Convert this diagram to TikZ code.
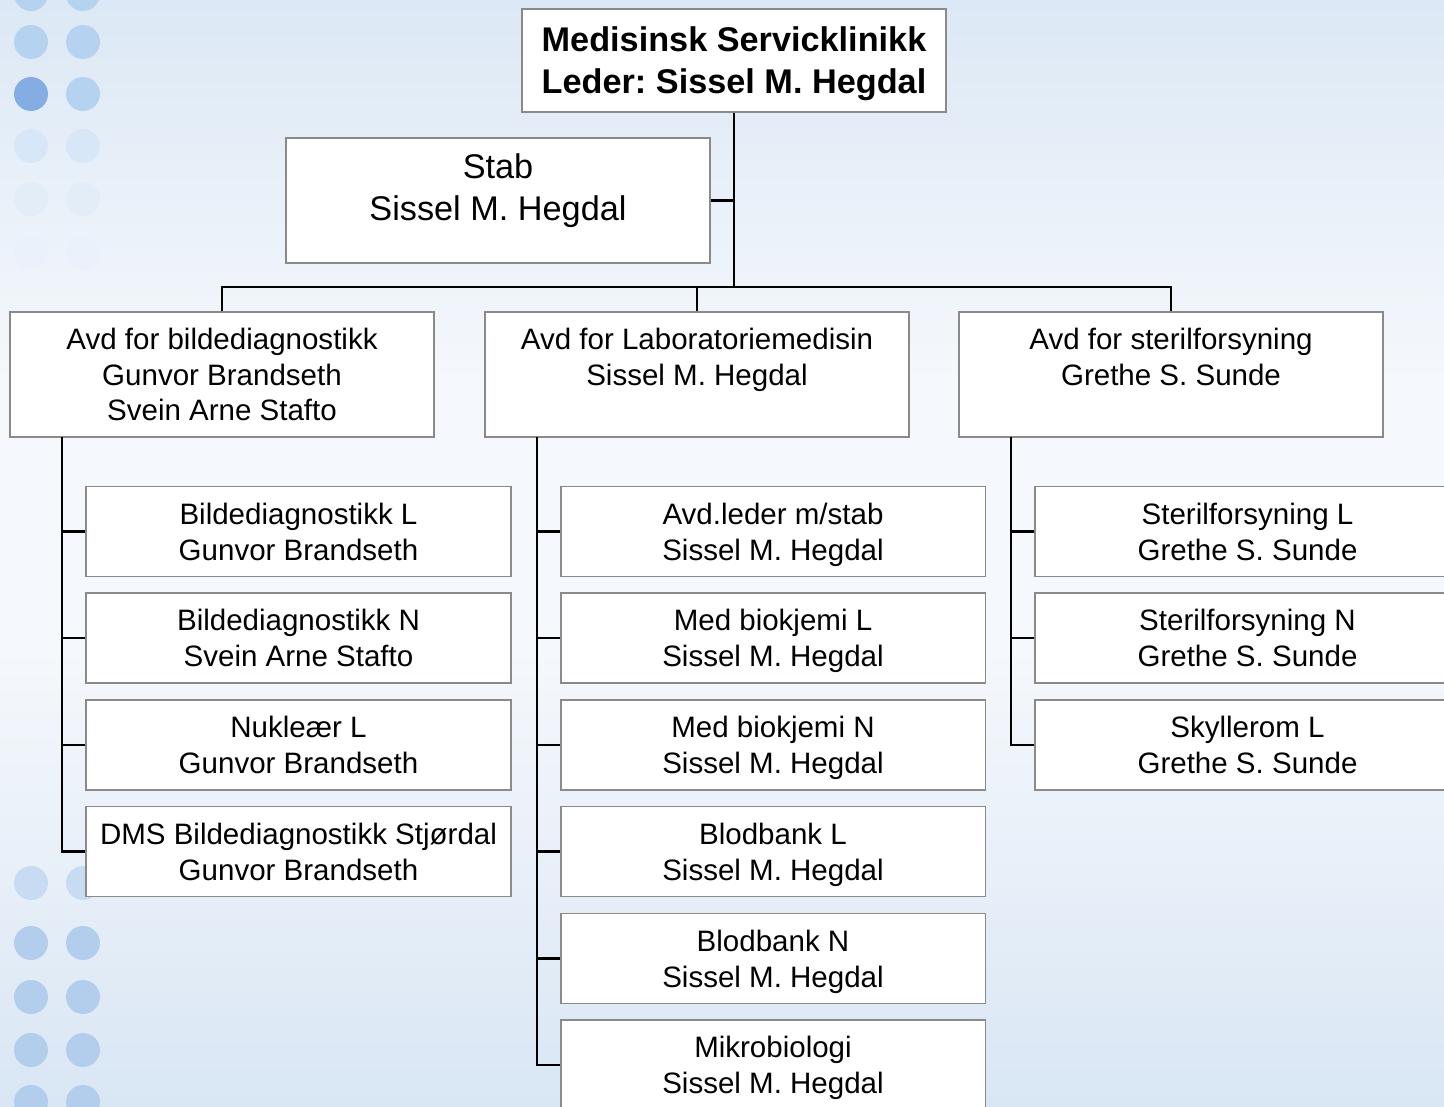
\documentclass[tikz,border=0pt]{standalone}
\usepackage{fontspec}
\setmainfont{Liberation Sans}
\frenchspacing

\definecolor{boxline}{HTML}{8A8A8A}
\definecolor{skytop}{HTML}{DCE8F5}
\definecolor{skymid}{HTML}{F5F8FC}
\definecolor{skybot}{HTML}{D9E6F4}
\definecolor{dotdark}{HTML}{84AEE3}
\definecolor{dotlight}{HTML}{B5D2F0}

\tikzset{
  card/.style={draw=boxline, fill=white, line width=1.1pt, align=center,
    minimum width=8.48cm, inner sep=2pt, text depth=0pt},
  headbox/.style={card, minimum height=2.06cm,
    font=\fontsize{19.5}{23.9}\selectfont\bfseries},
  stabbox/.style={card, minimum height=2.5cm,
    font=\fontsize{19.5}{23.9}\selectfont},
  deptbox/.style={card, minimum height=2.5cm,
    font=\fontsize{16.8}{20.3}\selectfont},
  unitbox/.style={card, minimum width=8.5cm, minimum height=1.8cm,
    font=\fontsize{16.8}{20.5}\selectfont},
  link/.style={line width=1.2pt, black}
}

\begin{document}
\begin{tikzpicture}[x=0.02cm, y=-0.02cm]
  \useasboundingbox (0,0) rectangle (1444,1106);

  % background
  \fill[skymid] (0,0) rectangle (1444,1106);
  \shade[top color=skytop, bottom color=skymid] (0,0) rectangle (1444,380);
  \shade[top color=skymid, bottom color=skybot] (0,650) rectangle (1444,1106);
  \fill[dotlight] (31,-6) circle[radius=0.34cm] (83,-6) circle[radius=0.34cm];
  \fill[dotlight] (31,42) circle[radius=0.34cm] (83,42) circle[radius=0.34cm];
  \fill[dotdark] (31,94) circle[radius=0.34cm];
  \fill[dotlight] (83,94) circle[radius=0.34cm];
  \fill[dotlight!45!skymid] (31,146) circle[radius=0.34cm] (83,146) circle[radius=0.34cm];
  \fill[dotlight!30!skymid] (31,199) circle[radius=0.34cm] (83,199) circle[radius=0.34cm];
  \fill[dotlight!18!skymid] (31,253) circle[radius=0.34cm] (83,253) circle[radius=0.34cm];
  \fill[dotlight!50!skybot] (31,883) circle[radius=0.34cm] (83,883) circle[radius=0.34cm];
  \fill[dotdark!45!skybot] (31,943) circle[radius=0.34cm] (83,943) circle[radius=0.34cm];
  \fill[dotdark!45!skybot] (31,997) circle[radius=0.34cm] (83,997) circle[radius=0.34cm];
  \fill[dotdark!45!skybot] (31,1050) circle[radius=0.34cm] (83,1050) circle[radius=0.34cm];
  \fill[dotdark!45!skybot] (31,1102) circle[radius=0.34cm] (83,1102) circle[radius=0.34cm];

  % top and staff
  \node[headbox] (top) at (734,60.5) {Medisinsk Servicklinikk\\Leder: Sissel M. Hegdal};
  \node[stabbox] (stab) at (498,200.5) {Stab\\Sissel M. Hegdal\\[-0.3cm]\mbox{}};

  % departments
  \node[deptbox] (bild) at (222,374.5) {Avd for bildediagnostikk\\Gunvor Brandseth\\Svein Arne Stafto};
  \node[deptbox] (lab) at (697,374.5) {Avd for Laboratoriemedisin\\Sissel M. Hegdal\\\mbox{}};
  \node[deptbox] (ster) at (1171,374.5) {Avd for sterilforsyning\\Grethe S. Sunde\\\mbox{}};

  % units, bildediagnostikk
  \node[unitbox] (bild1) at (298.5,531.5) {Bildediagnostikk L\\Gunvor Brandseth};
  \node[unitbox] (bild2) at (298.5,638) {Bildediagnostikk N\\Svein Arne Stafto};
  \node[unitbox] (bild3) at (298.5,745) {Nukleær L\\Gunvor Brandseth};
  \node[unitbox] (bild4) at (298.5,851.5) {DMS Bildediagnostikk Stjørdal\\Gunvor Brandseth};

  % units, laboratoriemedisin
  \node[unitbox] (lab1) at (773,531.5) {Avd.leder m/stab\\Sissel M. Hegdal};
  \node[unitbox] (lab2) at (773,638) {Med biokjemi L\\Sissel M. Hegdal};
  \node[unitbox] (lab3) at (773,745) {Med biokjemi N\\Sissel M. Hegdal};
  \node[unitbox] (lab4) at (773,851.5) {Blodbank L\\Sissel M. Hegdal};
  \node[unitbox] (lab5) at (773,958.5) {Blodbank N\\Sissel M. Hegdal};
  \node[unitbox] (lab6) at (773,1065) {Mikrobiologi\\Sissel M. Hegdal};

  % units, sterilforsyning
  \node[unitbox] (ster1) at (1247.5,531.5) {Sterilforsyning L\\Grethe S. Sunde};
  \node[unitbox] (ster2) at (1247.5,638) {Sterilforsyning N\\Grethe S. Sunde};
  \node[unitbox] (ster3) at (1247.5,745) {Skyllerom L\\Grethe S. Sunde};

  % connectors
  \coordinate (bus) at (734,287);
  \draw[link] (top.south) -- (bus);
  \draw[link] (stab.east) -- (stab.east -| top.south);
  \draw[link] (bild.north) |- (bus) -| (ster.north);
  \draw[link] (lab.north) -- (lab.north |- bus);

  \coordinate (bildrail) at (62,437);
  \coordinate (labrail) at (537,437);
  \coordinate (sterrail) at (1011,437);

  \draw[link] (bildrail) |- (bild4.west);
  \draw[link] (bild1.west) -- (bild1.west -| bildrail);
  \draw[link] (bild2.west) -- (bild2.west -| bildrail);
  \draw[link] (bild3.west) -- (bild3.west -| bildrail);

  \draw[link] (labrail) |- (lab6.west);
  \draw[link] (lab1.west) -- (lab1.west -| labrail);
  \draw[link] (lab2.west) -- (lab2.west -| labrail);
  \draw[link] (lab3.west) -- (lab3.west -| labrail);
  \draw[link] (lab4.west) -- (lab4.west -| labrail);
  \draw[link] (lab5.west) -- (lab5.west -| labrail);

  \draw[link] (sterrail) |- (ster3.west);
  \draw[link] (ster1.west) -- (ster1.west -| sterrail);
  \draw[link] (ster2.west) -- (ster2.west -| sterrail);
\end{tikzpicture}
\end{document}
